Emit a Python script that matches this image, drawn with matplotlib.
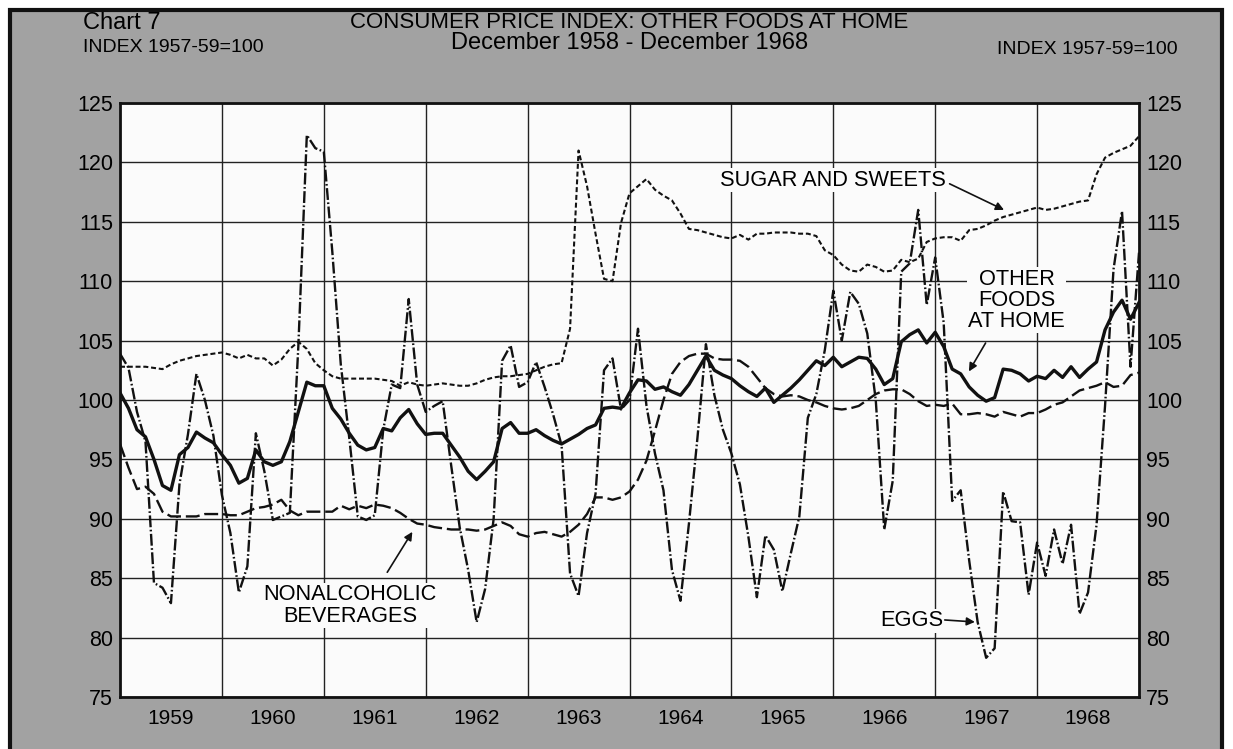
import matplotlib
matplotlib.use("Agg")
import matplotlib.pyplot as plt
from matplotlib.patches import Rectangle
import numpy as np

# monthly values, Dec 1958 .. Dec 1968 (index 1957-59=100)
sugar = [102.8, 102.8, 102.8, 102.8, 102.7, 102.6, 103.0, 103.3, 103.5, 103.7,
         103.8, 103.9, 104.0, 103.8, 103.5, 103.8, 103.5, 103.5, 102.9, 103.4,
         104.3, 104.9, 104.3, 103.1, 102.5, 102.0, 101.8, 101.8, 101.8, 101.8,
         101.8, 101.7, 101.6, 101.2, 101.5, 101.3, 101.2, 101.3, 101.4, 101.3,
         101.2, 101.2, 101.4, 101.7, 101.9, 102.0, 102.0, 102.1, 102.2, 102.5,
         102.8, 103.0, 103.1, 106.0, 121.0, 118.0, 114.0, 110.2, 110.0, 114.9,
         117.4, 118.0, 118.6, 117.7, 117.2, 116.8, 115.7, 114.4, 114.3, 114.1,
         113.9, 113.7, 113.6, 113.9, 113.5, 114.0, 114.0, 114.1, 114.1, 114.1,
         114.0, 114.0, 113.8, 112.6, 112.2, 111.4, 110.9, 110.8, 111.4, 111.2,
         110.8, 110.9, 111.8, 111.6, 111.9, 113.3, 113.6, 113.7, 113.7, 113.4,
         114.3, 114.4, 114.7, 115.1, 115.4, 115.6, 115.8, 116.0, 116.2, 116.0,
         116.1, 116.3, 116.5, 116.7, 116.8, 119.0, 120.4, 120.8, 121.1, 121.4,
         122.2]

other_foods = [100.6, 99.3, 97.5, 96.9, 95.0, 92.8, 92.4, 95.4, 96.0, 97.3,
               96.8, 96.4, 95.4, 94.5, 93.0, 93.4, 95.8, 94.8, 94.5, 94.8,
               96.5, 99.0, 101.5, 101.2, 101.2, 99.3, 98.4, 97.2, 96.2, 95.8,
               96.0, 97.6, 97.4, 98.5, 99.2, 98.0, 97.1, 97.2, 97.2, 96.2,
               95.2, 94.0, 93.3, 94.0, 94.8, 97.6, 98.1, 97.2, 97.2, 97.5,
               97.0, 96.6, 96.3, 96.7, 97.1, 97.6, 97.9, 99.3, 99.4, 99.3,
               100.6, 101.7, 101.6, 100.9, 101.1, 100.7, 100.4, 101.3, 102.5, 103.7,
               102.5, 102.1, 101.8, 101.2, 100.7, 100.3, 101.0, 99.8, 100.4, 101.0,
               101.7, 102.5, 103.3, 102.9, 103.6, 102.8, 103.2, 103.6, 103.5, 102.6,
               101.3, 101.8, 104.9, 105.5, 105.9, 104.8, 105.7, 104.5, 102.6, 102.2,
               101.1, 100.4, 99.9, 100.2, 102.6, 102.5, 102.2, 101.6, 102.0, 101.8,
               102.5, 101.9, 102.8, 101.9, 102.6, 103.2, 105.9, 107.4, 108.4, 106.8,
               108.2]

beverages = [96.3, 94.3, 92.5, 92.7, 92.1, 90.6, 90.2, 90.2, 90.2, 90.2,
             90.4, 90.4, 90.4, 90.3, 90.3, 90.6, 90.9, 91.0, 91.2, 91.6,
             90.7, 90.3, 90.6, 90.6, 90.6, 90.6, 91.1, 90.8, 91.1, 90.9,
             91.2, 91.1, 90.9, 90.5, 90.0, 89.6, 89.5, 89.3, 89.2, 89.1,
             89.1, 89.1, 89.0, 89.1, 89.4, 89.7, 89.4, 88.7, 88.5, 88.8,
             88.9, 88.7, 88.5, 88.9, 89.5, 90.4, 91.8, 91.8, 91.6, 91.8,
             92.3, 93.3, 94.9, 97.4, 100.0, 102.2, 103.2, 103.7, 103.9, 103.9,
             103.5, 103.4, 103.4, 103.3, 102.8, 101.9, 101.0, 100.5, 100.3, 100.4,
             100.3, 100.0, 99.8, 99.5, 99.3, 99.2, 99.3, 99.5, 100.0, 100.5,
             100.8, 100.9, 100.9, 100.5, 99.9, 99.5, 99.6, 99.5, 99.7, 98.8,
             98.8, 98.9, 98.8, 98.6, 99.0, 98.8, 98.6, 98.9, 98.9, 99.2,
             99.6, 99.8, 100.3, 100.8, 101.0, 101.2, 101.5, 101.1, 101.2, 102.1,
             102.3]

eggs = [103.9, 102.7, 99.0, 96.5, 84.6, 84.2, 82.9, 92.9, 97.1, 102.2,
        100.0, 97.0, 92.0, 88.8, 83.8, 86.0, 97.2, 94.0, 89.9, 90.2,
        90.5, 104.5, 122.3, 121.2, 120.9, 112.5, 103.0, 96.8, 90.2, 89.9,
        90.3, 97.5, 101.3, 101.0, 108.5, 101.3, 99.0, 99.5, 99.9, 94.5,
        89.3, 85.7, 81.3, 84.1, 90.0, 103.3, 104.6, 101.1, 101.5, 103.2,
        101.1, 98.8, 96.2, 85.4, 83.5, 88.8, 92.1, 102.5, 103.5, 99.2,
        100.0, 106.0, 99.5, 95.5, 92.4, 85.7, 83.1, 89.6, 96.8, 104.7,
        100.4, 97.5, 95.5, 92.9, 88.5, 83.4, 88.6, 87.4, 83.9, 87.1,
        90.2, 98.5, 100.5, 104.2, 109.2, 105.0, 109.1, 108.1, 105.6, 100.0,
        89.1, 93.2, 110.8, 111.5, 116.0, 108.0, 112.0, 106.5, 91.5, 92.4,
        86.5, 81.3, 78.3, 79.1, 92.3, 89.8, 89.7, 83.6, 88.0, 85.2,
        89.1, 86.2, 89.5, 82.0, 83.8, 89.5, 99.5, 111.0, 115.9, 102.8,
        112.4]

years = ["1959", "1960", "1961", "1962", "1963", "1964", "1965", "1966", "1967", "1968"]
yticks = [75, 80, 85, 90, 95, 100, 105, 110, 115, 120, 125]

plt.rcParams["font.family"] = ["Liberation Sans Narrow", "Liberation Sans", "DejaVu Sans"]
plt.rcParams["lines.scale_dashes"] = False

months = np.arange(len(sugar))

fig = plt.figure(figsize=(12.33, 7.49), dpi=100, facecolor="white")
# grey card with black frame
fig.patches.append(Rectangle((10 / 1233, -0.05), 1212 / 1233, 1 - 10 / 749 + 0.05,
                             transform=fig.transFigure, facecolor="#a2a2a2",
                             edgecolor="#111111", linewidth=3, zorder=-10))

ax = fig.add_axes([120 / 1233, 1 - 697 / 749, 1019 / 1233, 594 / 749], zorder=2)
ax.set_facecolor("#fbfbfb")

ax.plot(months, sugar, color="#111111", lw=1.5, dashes=(3.6, 2.0), zorder=3)
ax.plot(months, beverages, color="#111111", lw=1.7, dashes=(10, 3.5), zorder=3)
ax.plot(months, eggs, color="#111111", lw=1.7, dashes=(8.5, 1.8, 1.2, 1.8), zorder=3)
ax.plot(months, other_foods, color="#111111", lw=2.4, zorder=4)

ax.set_xlim(0, 120)
ax.set_ylim(75, 125)
ax.set_yticks(yticks)
ax.set_xticks(np.arange(12, 120, 12))
ax.set_xticklabels([])
ax.set_xticks(np.arange(6, 120, 12), minor=True)
ax.set_xticklabels(years, minor=True)
ax.grid(True, which="major", color="#222222", lw=1.0)
ax.tick_params(axis="x", which="both", length=0, pad=9, labelsize=15)
ax.tick_params(axis="y", length=0, pad=5, labelsize=15.5, labelleft=True, labelright=True)
for s in ax.spines.values():
    s.set_linewidth(2)
    s.set_color("#111111")

# labels on the series
box = dict(facecolor="#fbfbfb", edgecolor="none", pad=1)
lab = 15.7
arrow = dict(arrowstyle="-|>", color="#111111", lw=1.2, mutation_scale=12)
ax.text(84.0, 118.5, "SUGAR AND SWEETS", ha="center", va="center", fontsize=lab, bbox=box, zorder=5)
ax.annotate("", xy=(104.4, 115.9), xytext=(97.4, 118.3), arrowprops=arrow, zorder=5)

ax.text(105.6, 108.4, "OTHER\nFOODS\nAT HOME", ha="center", va="center", fontsize=lab,
        linespacing=1.0, bbox=box, zorder=5)
ax.annotate("", xy=(99.8, 102.2), xytext=(102.1, 105.0), arrowprops=arrow, zorder=5)

ax.text(27.1, 82.7, "NONALCOHOLIC\nBEVERAGES", ha="center", va="center", fontsize=lab,
        linespacing=1.05, bbox=box, zorder=5)
ax.annotate("", xy=(34.6, 89.1), xytext=(31.3, 85.3), arrowprops=arrow, zorder=5)

ax.text(93.3, 81.4, "EGGS", ha="center", va="center", fontsize=lab, bbox=box, zorder=5)
ax.annotate("", xy=(101.0, 81.3), xytext=(96.8, 81.5), arrowprops=arrow, zorder=5)

# headings
fig.text(83 / 1233, 1 - 23 / 749, "Chart 7", fontsize=17, va="center", ha="left")
fig.text(629 / 1233, 1 - 23 / 749, "CONSUMER PRICE INDEX: OTHER FOODS AT HOME",
         fontsize=16, va="center", ha="center")
fig.text(630 / 1233, 1 - 43 / 749, "December 1958 - December 1968",
         fontsize=17, va="center", ha="center")
fig.text(83 / 1233, 1 - 48 / 749, "INDEX 1957-59=100", fontsize=14, va="center", ha="left")
fig.text(1178 / 1233, 1 - 49 / 749, "INDEX 1957-59=100", fontsize=14, va="center", ha="right")

fig.savefig("out.png", dpi=100, facecolor=fig.get_facecolor())
